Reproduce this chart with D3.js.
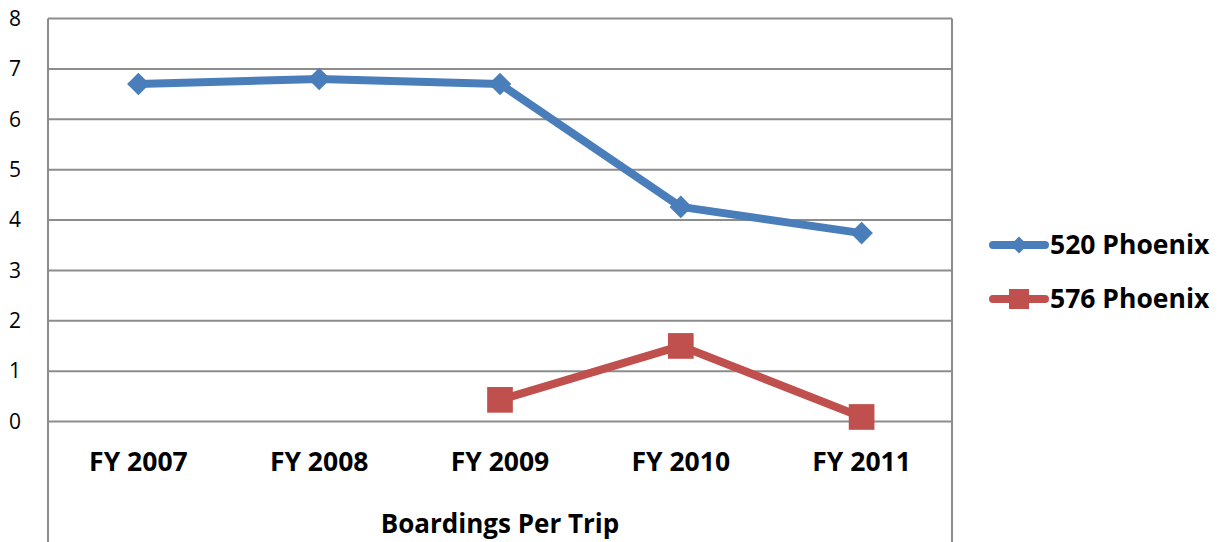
<!DOCTYPE html>
<html>
<head>
<meta charset="utf-8">
<style>
body { margin: 0; background: #fff; }
text { font-family: "Open Sans", sans-serif; fill: #000; }
</style>
</head>
<body>
<script src="https://cdn.jsdelivr.net/npm/d3@7/dist/d3.min.js"></script>
<script>
var categories = ["FY 2007", "FY 2008", "FY 2009", "FY 2010", "FY 2011"];
var phoenix520 = [6.7, 6.8, 6.7, 4.26, 3.74];
var phoenix576 = [null, null, 0.43, 1.5, 0.09];
var yTicks = [0, 1, 2, 3, 4, 5, 6, 7, 8];
var seriesNames = ["520 Phoenix", "576 Phoenix"];
var axisTitle = "Boardings Per Trip";

var width = 1225, height = 542;
var plotLeft = 48, plotRight = 952, plotTop = 18.5, plotBottom = 421.5;

var svg = d3.select("body").append("svg")
    .attr("width", width)
    .attr("height", height);

var x = d3.scaleBand().domain(categories).range([plotLeft, plotRight]);
var y = d3.scaleLinear().domain([0, 8]).range([plotBottom, plotTop]);

// gridlines
svg.append("g")
  .selectAll("line")
  .data(yTicks)
  .enter().append("line")
    .attr("x1", plotLeft).attr("x2", plotRight)
    .attr("y1", function(d) { return y(d); })
    .attr("y2", function(d) { return y(d); })
    .style("stroke", "#8c8c8c")
    .style("stroke-width", 2);

// frame lines going down through the category area
svg.append("line")
    .attr("x1", plotLeft).attr("x2", plotLeft).attr("y1", plotTop).attr("y2", height)
    .style("stroke", "#8c8c8c").style("stroke-width", 2);
svg.append("line")
    .attr("x1", plotRight).attr("x2", plotRight).attr("y1", plotTop).attr("y2", height)
    .style("stroke", "#8c8c8c").style("stroke-width", 2);

// y labels
svg.append("g")
  .selectAll("text")
  .data(yTicks)
  .enter().append("text")
    .attr("x", 15)
    .attr("y", function(d) { return y(d); })
    .attr("dy", "0.35em")
    .attr("text-anchor", "middle")
    .style("font-size", "21px")
    .text(function(d) { return d; });

// x labels
svg.append("g")
  .selectAll("text")
  .data(categories)
  .enter().append("text")
    .attr("x", function(d) { return x(d) + x.bandwidth() / 2; })
    .attr("y", 462)
    .attr("dy", "0.35em")
    .attr("text-anchor", "middle")
    .style("font-size", "26.5px")
    .style("font-weight", "bold")
    .text(function(d) { return d; });

svg.append("text")
    .attr("x", (plotLeft + plotRight) / 2)
    .attr("y", 524)
    .attr("dy", "0.35em")
    .attr("text-anchor", "middle")
    .style("font-size", "26px")
    .style("font-weight", "bold")
    .text(axisTitle);

var cx = function(i) { return x(categories[i]) + x.bandwidth() / 2; };

var line = d3.line()
    .defined(function(d) { return d != null; })
    .x(function(d, i) { return cx(i); })
    .y(function(d) { return y(d); });

var blue = "#4a7ebb", red = "#c0504d";

svg.append("path")
    .datum(phoenix520)
    .attr("d", line)
    .style("fill", "none")
    .style("stroke", blue)
    .style("stroke-width", 8)
    .style("stroke-linejoin", "round");

svg.append("path")
    .datum(phoenix576)
    .attr("d", line)
    .style("fill", "none")
    .style("stroke", red)
    .style("stroke-width", 8)
    .style("stroke-linejoin", "round");

var diamond = d3.symbol().type(d3.symbolSquare).size(256);
var square = d3.symbol().type(d3.symbolSquare).size(660);

svg.append("g")
  .selectAll("path")
  .data(phoenix520)
  .enter().append("path")
    .attr("d", diamond)
    .attr("transform", function(d, i) { return "translate(" + cx(i) + "," + y(d) + ") rotate(45)"; })
    .style("fill", blue);

svg.append("g")
  .selectAll("path")
  .data(phoenix576.map(function(d, i) { return {v: d, i: i}; }).filter(function(d) { return d.v != null; }))
  .enter().append("path")
    .attr("d", square)
    .attr("transform", function(d) { return "translate(" + cx(d.i) + "," + y(d.v) + ")"; })
    .style("fill", red);

// legend
var legend = svg.append("g");
var legendItems = [{name: seriesNames[0], color: blue, shape: "diamond", y: 245},
                   {name: seriesNames[1], color: red, shape: "square", y: 299}];
legendItems.forEach(function(d) {
  legend.append("line")
      .attr("x1", 993).attr("x2", 1045)
      .attr("y1", d.y).attr("y2", d.y)
      .style("stroke", d.color)
      .style("stroke-width", 8)
      .style("stroke-linecap", "round");
  if (d.shape == "diamond") {
    legend.append("path")
        .attr("d", d3.symbol().type(d3.symbolSquare).size(144))
        .attr("transform", "translate(1019," + d.y + ") rotate(45)")
        .style("fill", d.color);
  } else {
    legend.append("path")
        .attr("d", d3.symbol().type(d3.symbolSquare).size(400))
        .attr("transform", "translate(1019," + d.y + ")")
        .style("fill", d.color);
  }
  legend.append("text")
      .attr("x", 1050)
      .attr("y", d.y)
      .attr("dy", "0.35em")
      .style("font-size", "26.5px")
      .style("font-weight", "bold")
      .text(d.name);
});
</script>
</body>
</html>
